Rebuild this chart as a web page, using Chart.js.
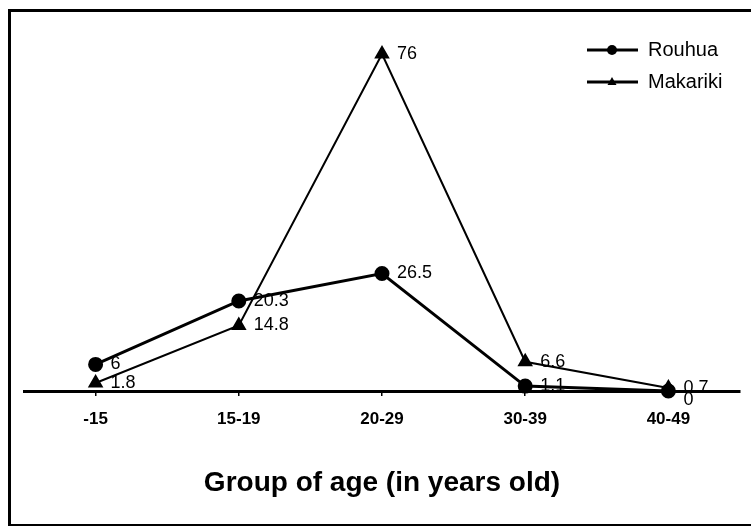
<!DOCTYPE html>
<html lang="en">
  <head>
    <meta charset="UTF-8" />
    <title>Group of age</title>
    <script src="https://cdn.jsdelivr.net/npm/chart.js"></script>
    <style>
      html, body { margin: 0; padding: 0; background: #fff; overflow: hidden; }
      #wrap { position: relative; width: 751px; height: 526px; }
      #frame {
        position: absolute; left: 8px; top: 9px; width: 800px; height: 512px;
        border-top: 3px solid #000; border-left: 3px solid #000; border-bottom: 2px solid #000;
        pointer-events: none;
      }
    </style>
  </head>
  <body>
    <div id="wrap">
      <canvas id="my-chart" width="751" height="526"></canvas>
      <div id="frame"></div>
    </div>

    <script>
      // age groups on the x axis
      const ageGroups = ["-15", "15-19", "20-29", "30-39", "40-49"];
      // values
      const rouhua = [6, 20.3, 26.5, 1.1, 0];
      const makariki = [1.8, 14.8, 76, 6.6, 0.7];

      const FONT = "'Liberation Sans', Arial, sans-serif";

      //draw a small marker, used by the legend
      function marker(ctx, style, x, y, r) {
        ctx.beginPath();
        if (style === "triangle") {
          ctx.moveTo(x, y - r);
          ctx.lineTo(x + r * 0.9, y + r * 0.6);
          ctx.lineTo(x - r * 0.9, y + r * 0.6);
          ctx.closePath();
        } else {
          ctx.arc(x, y, r, 0, Math.PI * 2);
        }
        ctx.fill();
      }

      //value labels right of each point
      const valueLabels = {
        id: "valueLabels",
        afterDatasetsDraw(chart) {
          const ctx = chart.ctx;
          ctx.save();
          ctx.fillStyle = "#000";
          ctx.font = "18px " + FONT;
          ctx.textAlign = "left";
          ctx.textBaseline = "middle";
          chart.data.datasets.forEach((ds, i) => {
            chart.getDatasetMeta(i).data.forEach((pt, j) => {
              const v = ds.data[j];
              const dy = v === 0 ? 9 : 0;
              ctx.fillText(String(v), pt.x + 15, pt.y + dy);
            });
          });
          ctx.restore();
        },
      };

      //legend drawn inside the plot, top right
      const cornerLegend = {
        id: "cornerLegend",
        afterDraw(chart) {
          const ctx = chart.ctx;
          const area = chart.chartArea;
          const x0 = area.right - 153;
          const y0 = area.top + 27;
          ctx.save();
          chart.data.datasets.forEach((ds, i) => {
            const y = y0 + i * 32;
            ctx.strokeStyle = "#000";
            ctx.fillStyle = "#000";
            ctx.lineWidth = 3;
            ctx.beginPath();
            ctx.moveTo(x0, y);
            ctx.lineTo(x0 + 51, y);
            ctx.stroke();
            marker(ctx, ds.pointStyle, x0 + 25, y, 5);
            ctx.font = "20px " + FONT;
            ctx.textBaseline = "middle";
            ctx.fillText(ds.label, x0 + 61, y);
          });
          ctx.restore();
        },
      };

      const ctx = document.getElementById("my-chart").getContext("2d");
      const myChart = new Chart(ctx, {
        type: "line",
        data: {
          labels: ageGroups,
          datasets: [
            {
              label: "Rouhua",
              data: rouhua,
              borderColor: "#000",
              backgroundColor: "#000",
              borderWidth: 3,
              pointStyle: "circle",
              pointRadius: 6,
              tension: 0,
              clip: false,
            },
            {
              label: "Makariki",
              data: makariki,
              borderColor: "#000",
              backgroundColor: "#000",
              borderWidth: 2,
              pointStyle: "triangle",
              pointRadius: 7,
              tension: 0,
              clip: false,
            },
          ],
        },
        options: {
          responsive: false,
          animation: false,
          layout: { padding: { left: 24, right: 11, top: 23, bottom: 22 } },
          plugins: {
            legend: { display: false },
            tooltip: { enabled: false },
          },
          scales: {
            x: {
              offset: true,
              border: { display: true, color: "#000", width: 3 },
              grid: {
                drawOnChartArea: false,
                color: "#000",
                lineWidth: 1.5,
                tickLength: 5,
              },
              ticks: {
                color: "#000",
                padding: 13,
                font: { family: FONT, size: 17, weight: "bold" },
              },
              title: {
                display: true,
                text: "Group of age (in years old)",
                color: "#000",
                padding: { top: 24, bottom: 4 },
                font: { family: FONT, size: 28, weight: "bold" },
              },
            },
            y: {
              display: false,
              min: 0,
              max: 83,
            },
          },
        },
        plugins: [valueLabels, cornerLegend],
      });
    </script>
  </body>
</html>
